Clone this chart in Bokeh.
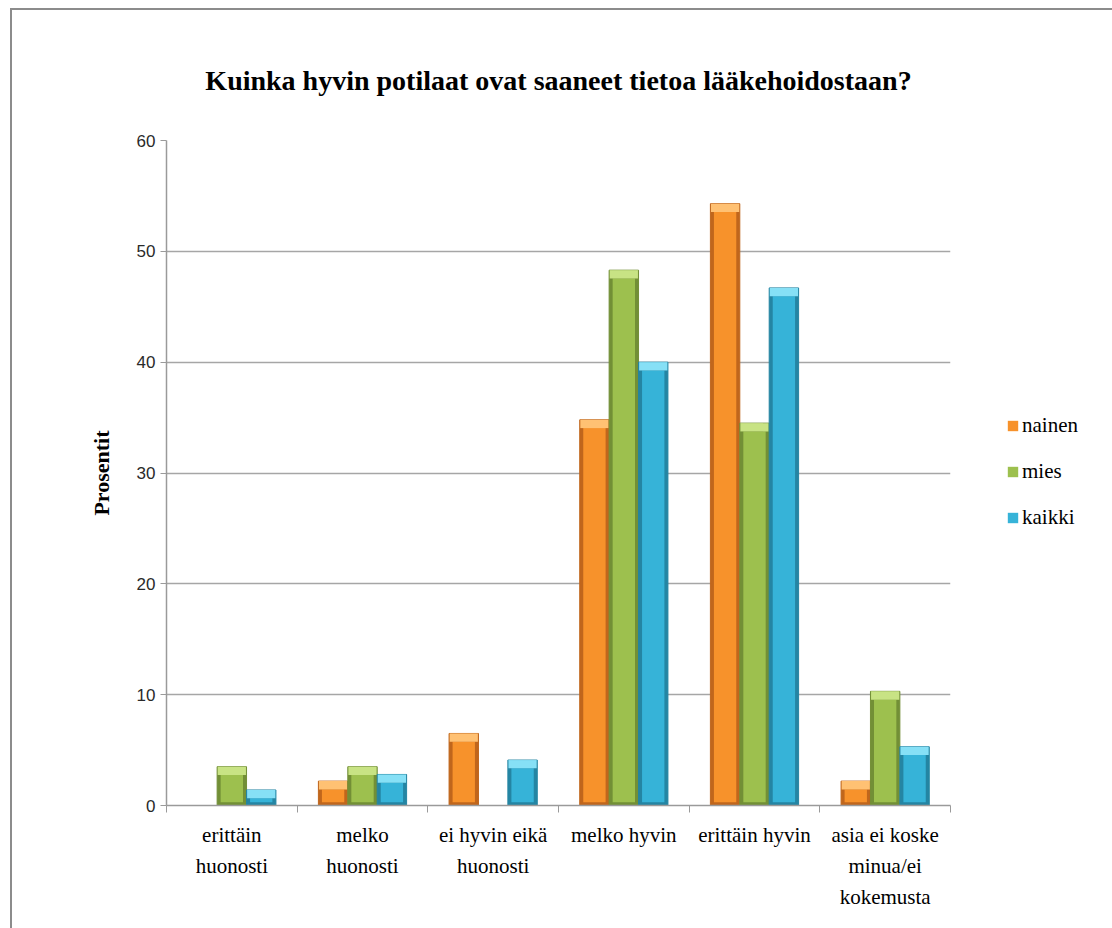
from bokeh.plotting import figure
from bokeh.models import Range1d, FixedTicker, Legend, LegendItem, ColumnDataSource
from bokeh.embed import file_html
from bokeh.resources import INLINE

categories = ["erittäin\nhuonosti", "melko\nhuonosti", "ei hyvin eikä\nhuonosti",
              "melko hyvin", "erittäin hyvin", "asia ei koske\nminua/ei\nkokemusta"]
series = ["nainen", "mies", "kaikki"]
nainen = [0.0, 2.2, 6.5, 34.8, 54.3, 2.2]
mies = [3.5, 3.5, 0.0, 48.3, 34.5, 10.3]
kaikki = [1.4, 2.8, 4.1, 40.0, 46.7, 5.3]
y_ticks = [0, 10, 20, 30, 40, 50, 60]

main_cols = ["#F7922B", "#9DC04E", "#36B3D8"]
dark_cols = ["#C0661C", "#728F36", "#2485A3"]
light_cols = ["#FFC173", "#C8E384", "#86E0F6"]

SERIF = "'Times New Roman', 'Liberation Serif', serif"
ncat = len(categories)

p = figure(frame_width=784, frame_height=665, output_backend="svg", toolbar_location=None,
           x_range=Range1d(0, ncat), y_range=Range1d(0, 60),
           min_border_left=154, min_border_right=160, min_border_top=130, min_border_bottom=123)
p.styles = {"margin-left": "10px", "margin-top": "8px",
            "border-left": "2px solid #8c8c8c", "border-top": "2px solid #8c8c8c"}
p.outline_line_color = None
p.background_fill_color = "white"
p.border_fill_color = "white"

p.xgrid.grid_line_color = None
p.ygrid.grid_line_color = "#a6a6a6"
p.ygrid.grid_line_width = 1.5

bw = 0.225
offsets = [-bw, 0.0, bw]
legend_renderers = []
for k, vals in enumerate([nainen, mies, kaikki]):
    idx = [i for i, v in enumerate(vals) if v > 0]
    xs = [i + 0.5 + offsets[k] for i in idx]
    tops = [vals[i] for i in idx]
    src = ColumnDataSource(dict(x=xs, top=tops,
                                inner_top=[max(v - 0.75, 0) for v in tops],
                                cap_bottom=[max(v - 0.75, 0) for v in tops]))
    p.vbar(x="x", top="top", bottom=0, width=bw, source=src,
           fill_color=dark_cols[k], line_color=dark_cols[k], line_width=1)
    r = p.vbar(x="x", top="inner_top", bottom=0.3, width=bw * 0.76, source=src,
               fill_color=main_cols[k], line_color=None)
    p.vbar(x="x", top="top", bottom="cap_bottom", width=bw * 0.96, source=src,
           fill_color=light_cols[k], line_color=None)
    legend_renderers.append(r)

p.yaxis.ticker = FixedTicker(ticks=y_ticks)
p.yaxis.axis_line_color = "#9a9a9a"
p.yaxis.axis_line_width = 1.5
p.yaxis.major_tick_line_color = "#9a9a9a"
p.yaxis.major_tick_in = 0
p.yaxis.major_tick_out = 6
p.yaxis.minor_tick_line_color = None
p.yaxis.major_label_text_font = "Liberation Sans"
p.yaxis.major_label_text_font_size = "17px"
p.yaxis.major_label_text_color = "#2a2a2a"
p.yaxis.axis_label = "Prosentit"
p.yaxis.axis_label_text_font = "serif"
p.yaxis.axis_label_text_font_style = "bold"
p.yaxis.axis_label_text_font_size = "22px"
p.yaxis.axis_label_text_color = "black"
p.yaxis.axis_label_standoff = 20

centers = [i + 0.5 for i in range(ncat)]
p.xaxis.ticker = FixedTicker(ticks=centers, minor_ticks=list(range(ncat + 1)))
p.xaxis.major_label_overrides = {c: lab for c, lab in zip(centers, categories)}
p.xaxis.major_tick_line_color = None
p.xaxis.minor_tick_line_color = "#9a9a9a"
p.xaxis.minor_tick_in = 0
p.xaxis.minor_tick_out = 7
p.xaxis.axis_line_color = "#9a9a9a"
p.xaxis.axis_line_width = 1.5
p.xaxis.major_label_text_font = SERIF
p.xaxis.major_label_text_font_size = "21px"
p.xaxis.major_label_text_color = "black"
p.xaxis.major_label_standoff = 10
p.xaxis.major_label_text_line_height = 1.3

p.title.text = "Kuinka hyvin potilaat ovat saaneet tietoa lääkehoidostaan?"
p.title.text_font = "serif"
p.title.text_font_style = "bold"
p.title.text_font_size = "28px"
p.title.text_color = "black"
p.title.align = "center"
p.title.standoff = 90

legend = Legend(items=[LegendItem(label=s, renderers=[r]) for s, r in zip(series, legend_renderers)],
                location=(56, 275), orientation="vertical")
legend.label_text_font = SERIF
legend.label_text_font_size = "21px"
legend.label_text_color = "black"
legend.glyph_width = 13
legend.glyph_height = 13
legend.spacing = 21
legend.label_standoff = 3
legend.padding = 0
legend.margin = 0
legend.border_line_color = None
legend.background_fill_alpha = 0
p.add_layout(legend, "right")

open("out.html", "w").write(file_html(p, INLINE))
